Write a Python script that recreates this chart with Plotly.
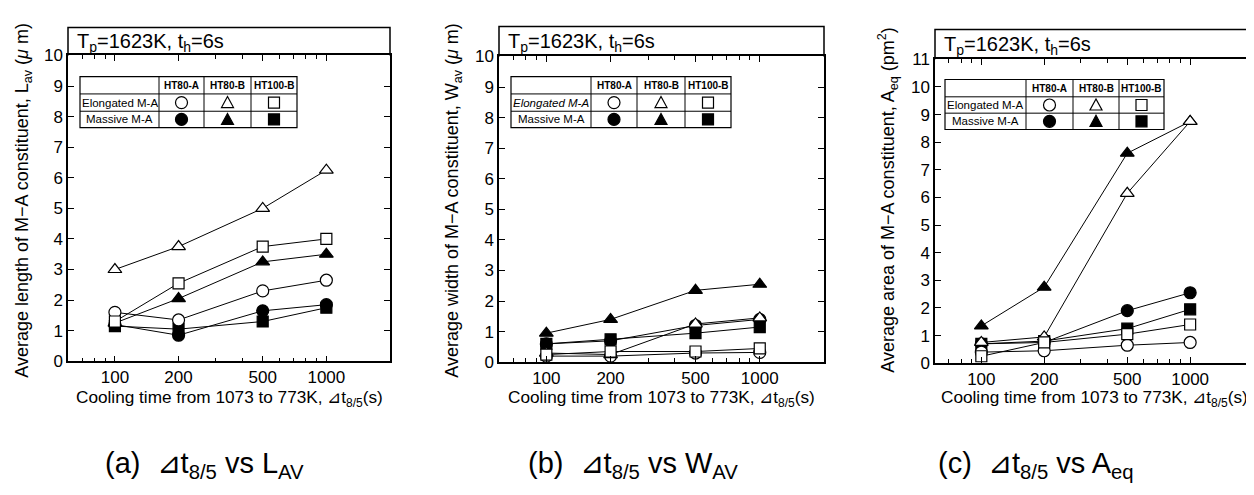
import math
import plotly.graph_objects as go

W, H = 1254, 495

# ---------------- data ----------------
cooling_time = [100, 200, 500, 1000]
x_tickvals = [100, 200, 500, 1000]
x_minor_tickvals = [60, 70, 80, 90, 300, 400, 600, 700, 800, 900]

steels = ["HT80-A", "HT80-B", "HT100-B"]
ma_types = ["Elongated M-A", "Massive M-A"]

# (a) average length L_av (um)
L_HT80A_elong = [1.6, 1.35, 2.3, 2.65]
L_HT80B_elong = [3.0, 3.75, 5.0, 6.25]
L_HT100B_elong = [1.3, 2.55, 3.75, 4.0]
L_HT80A_mass = [1.2, 0.85, 1.65, 1.85]
L_HT80B_mass = [1.25, 2.05, 3.25, 3.5]
L_HT100B_mass = [1.15, 1.05, 1.3, 1.75]

# (b) average width W_av (um)
W_HT80A_elong = [0.2, 0.2, 0.3, 0.32]
W_HT80B_elong = [0.3, 0.25, 1.25, 1.45]
W_HT100B_elong = [0.25, 0.35, 0.35, 0.45]
W_HT80A_mass = [0.6, 0.7, 1.2, 1.4]
W_HT80B_mass = [0.95, 1.4, 2.35, 2.55]
W_HT100B_mass = [0.6, 0.75, 0.95, 1.15]

# (c) average area A_eq
A_HT80A_elong = [0.4, 0.45, 0.65, 0.75]
A_HT80B_elong = [0.75, 0.95, 6.15, 8.75]
A_HT100B_elong = [0.25, 0.75, 1.05, 1.4]
A_HT80A_mass = [0.7, 0.75, 1.9, 2.55]
A_HT80B_mass = [1.35, 2.75, 7.6, 8.75]
A_HT100B_mass = [0.7, 0.8, 1.25, 1.95]

y_tickvals_ab = list(range(0, 11))
y_tickvals_c = list(range(0, 12))

# ---------------- layout helpers ----------------
FONT = "Liberation Sans, Arial, sans-serif"


def px(x):
    return x / W


def py(y):
    return 1 - y / H


symbol_of = {"HT80-A": "circle", "HT80-B": "triangle-up", "HT100-B": "square"}

panels = [
    dict(
        series=[
            ("HT80-A", False, L_HT80A_elong), ("HT80-B", False, L_HT80B_elong),
            ("HT100-B", False, L_HT100B_elong), ("HT80-A", True, L_HT80A_mass),
            ("HT80-B", True, L_HT80B_mass), ("HT100-B", True, L_HT100B_mass)],
        box=(60, 382, 40, 358, 11), ymax=10, yticks=y_tickvals_ab,
        ytitle="Average length of M\u2212A constituent, L<sub>av</sub> (<i>\u03bc</i> m)",
        table=dict(cols=[72, 151, 196, 243, 289], rows=[62, 80, 98, 115], italic=False),
        caption="(a)  \u22bft<sub>8/5</sub> vs L<sub>AV</sub>", cap_x=196, ytitle_x=16,
    ),
    dict(
        series=[
            ("HT80-A", False, W_HT80A_elong), ("HT80-B", False, W_HT80B_elong),
            ("HT100-B", False, W_HT100B_elong), ("HT80-A", True, W_HT80A_mass),
            ("HT80-B", True, W_HT80B_mass), ("HT100-B", True, W_HT100B_mass)],
        box=(491, 816, 41, 359, 10), ymax=10, yticks=y_tickvals_ab,
        ytitle="Average width of M\u2212A constituent, W<sub>av</sub> (<i>\u03bc</i> m)",
        table=dict(cols=[503, 583, 629, 677, 723], rows=[62, 80, 98, 115], italic=True),
        caption="(b)  \u22bft<sub>8/5</sub> vs W<sub>AV</sub>", cap_x=625, ytitle_x=446,
    ),
    dict(
        series=[
            ("HT80-A", False, A_HT80A_elong), ("HT80-B", False, A_HT80B_elong),
            ("HT100-B", False, A_HT100B_elong), ("HT80-A", True, A_HT80A_mass),
            ("HT80-B", True, A_HT80B_mass), ("HT100-B", True, A_HT100B_mass)],
        box=(927, 1245, 44, 360, 13), ymax=11, yticks=y_tickvals_c,
        ytitle="Average area of M\u2212A constituent, A<sub>eq</sub> (pm<sup>2</sup>)",
        table=dict(cols=[937, 1018, 1065, 1111, 1156], rows=[65, 83, 100, 117], italic=False),
        caption="(c)  \u22bft<sub>8/5</sub> vs A<sub>eq</sub>", cap_x=1028, ytitle_x=880,
    ),
]

fig = go.Figure()
shapes = []
annotations = []


def sym_shape(kind, filled, cx, cy, r=6):
    base = dict(xref="paper", yref="paper", xsizemode="pixel", ysizemode="pixel",
                xanchor=cx, yanchor=cy, line=dict(color="black", width=1.2),
                fillcolor="black" if filled else "white", layer="above")
    if kind == "circle":
        return dict(type="circle", x0=-r, x1=r, y0=-r, y1=r, **base)
    if kind == "square":
        return dict(type="rect", x0=-r + 0.5, x1=r - 0.5, y0=-r + 0.5, y1=r - 0.5, **base)
    return dict(type="path", path=f"M {-r} {-r + 1} L {r} {-r + 1} L 0 {r} Z", **base)


for i, p in enumerate(panels, start=1):
    xa = "x" if i == 1 else f"x{i}"
    ya = "y" if i == 1 else f"y{i}"
    x0, x1, ytop, ybot, boxtop = p["box"]
    order = [3, 4, 5, 0, 1, 2]
    for k in order:
        steel, filled, vals = p["series"][k]
        fig.add_trace(go.Scatter(
            x=cooling_time, y=vals, xaxis=xa, yaxis=ya, mode="lines+markers",
            line=dict(color="black", width=1),
            marker=dict(symbol=symbol_of[steel], size=12 if steel != "HT100-B" else 11,
                        color="black" if filled else "white",
                        line=dict(color="black", width=1.2)),
            showlegend=False, cliponaxis=False,
            name=f"{steel} {'Massive' if filled else 'Elongated'} M-A"))

    axis_common = dict(showline=True, linecolor="black", linewidth=1.5, mirror="ticks",
                       ticks="inside", tickcolor="black", showgrid=False, zeroline=False,
                       tickfont=dict(family=FONT, size=17, color="black"))
    fig.update_layout(**{
        ("xaxis" if i == 1 else f"xaxis{i}"): dict(
            type="log", domain=[px(x0), px(x1)],
            range=[math.log10(60), math.log10(2000)],
            tickvals=x_tickvals, ticktext=[str(v) for v in x_tickvals], ticklen=6,
            minor=dict(tickvals=x_minor_tickvals, ticks="inside", ticklen=4, tickcolor="black"),
            anchor=ya, **axis_common),
        ("yaxis" if i == 1 else f"yaxis{i}"): dict(
            domain=[py(ybot), py(ytop)], range=[0, p["ymax"]],
            tickvals=p["yticks"], ticklen=6, anchor=xa, **axis_common),
    })
    # header box above plot area (open at the bottom: the axis line closes it)
    shapes.append(dict(type="path", xref="paper", yref="paper",
                       path=(f"M {px(x0)} {py(ytop)} L {px(x0)} {py(boxtop)} "
                             f"L {px(x1)} {py(boxtop)} L {px(x1)} {py(ytop)}"),
                       line=dict(color="black", width=1.5)))
    annotations.append(dict(xref="paper", yref="paper", x=px(x0 + 7), y=py((ytop + boxtop) / 2 + 1),
                            xanchor="left", yanchor="middle", showarrow=False,
                            text="T<sub>p</sub>=1623K, t<sub>h</sub>=6s",
                            font=dict(family=FONT, size=20, color="black")))
    # axis titles
    annotations.append(dict(xref="paper", yref="paper", x=px((x0 + x1) / 2), y=py(397),
                            xanchor="center", yanchor="middle", showarrow=False,
                            text="Cooling time from 1073 to 773K, \u22bft<sub>8/5</sub>(s)",
                            font=dict(family=FONT, size=17.2, color="black")))
    annotations.append(dict(xref="paper", yref="paper", x=px(p["ytitle_x"]), y=py(191),
                            xanchor="center", yanchor="middle", showarrow=False, textangle=-90,
                            text=p["ytitle"], font=dict(family=FONT, size=18, color="black")))
    # caption
    annotations.append(dict(xref="paper", yref="paper", x=px(p["cap_x"]), y=py(466),
                            xanchor="center", yanchor="middle", showarrow=False,
                            text=p["caption"], font=dict(family=FONT, size=29, color="black")))
    # legend table
    t = p["table"]
    cols, rows = t["cols"], t["rows"]
    shapes.append(dict(type="rect", xref="paper", yref="paper", x0=px(cols[0]), x1=px(cols[-1]),
                       y0=py(rows[-1]), y1=py(rows[0]), line=dict(color="black", width=1.2),
                       fillcolor="white", layer="above"))
    for c in cols[1:-1]:
        shapes.append(dict(type="line", xref="paper", yref="paper", x0=px(c), x1=px(c),
                           y0=py(rows[-1]), y1=py(rows[0]), line=dict(color="black", width=1),
                           layer="above"))
    for r in rows[1:-1]:
        shapes.append(dict(type="line", xref="paper", yref="paper", x0=px(cols[0]), x1=px(cols[-1]),
                           y0=py(r), y1=py(r), line=dict(color="black", width=1), layer="above"))
    for j, s in enumerate(steels):
        cx = (cols[j + 1] + cols[j + 2]) / 2
        annotations.append(dict(xref="paper", yref="paper", x=px(cx), y=py((rows[0] + rows[1]) / 2),
                                xanchor="center", yanchor="middle", showarrow=False,
                                text=f"<b>{s}</b>",
                                font=dict(family=FONT, size=10, color="black")))
        for m, filled in enumerate([False, True]):
            cy = (rows[m + 1] + rows[m + 2]) / 2
            shapes.append(sym_shape(symbol_of[s], filled, px(cx), py(cy)))
    for m, lab in enumerate(ma_types):
        cy = (rows[m + 1] + rows[m + 2]) / 2
        txt = f"<i>{lab}</i>" if (t["italic"] and m == 0) else lab
        annotations.append(dict(xref="paper", yref="paper", x=px((cols[0] + cols[1]) / 2), y=py(cy),
                                xanchor="center", yanchor="middle", showarrow=False, text=txt,
                                font=dict(family=FONT, size=11.5, color="black")))

fig.update_layout(width=W, height=H, margin=dict(l=0, r=0, t=0, b=0),
                  paper_bgcolor="white", plot_bgcolor="white",
                  shapes=shapes, annotations=annotations, showlegend=False)

fig.write_html("out.html")
